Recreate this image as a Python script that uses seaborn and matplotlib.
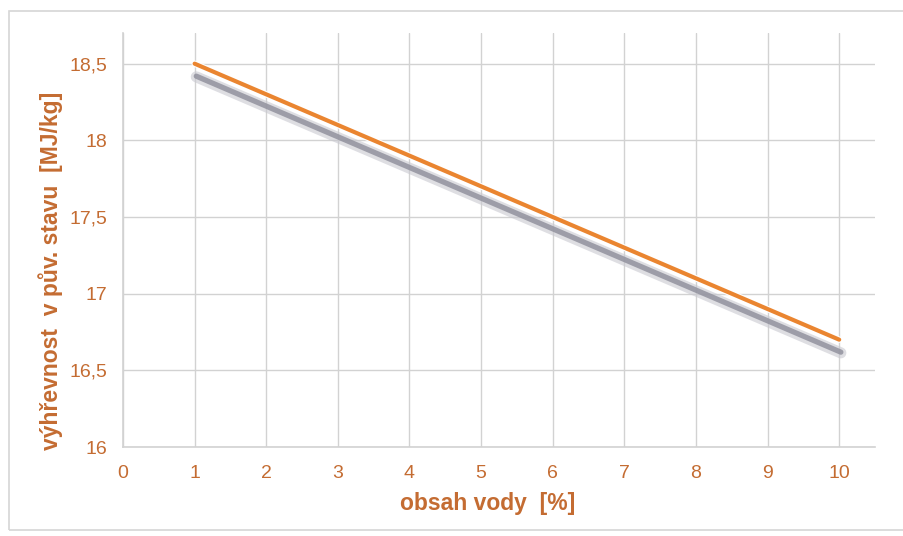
import matplotlib
matplotlib.use("Agg")
import matplotlib.pyplot as plt
import matplotlib.patheffects as pe
from matplotlib.patches import Rectangle
from matplotlib.ticker import FuncFormatter
import seaborn as sns
import pandas as pd

water_content = [1, 2, 3, 4, 5, 6, 7, 8, 9, 10]
heating_value = [18.5, 18.3, 18.1, 17.9, 17.7, 17.5, 17.3, 17.1, 16.9, 16.7]
x_ticks = [0, 1, 2, 3, 4, 5, 6, 7, 8, 9, 10]
y_ticks = [16, 16.5, 17, 17.5, 18, 18.5]

sns.set_theme(style="white")
plt.rcParams['font.family'] = ['Liberation Sans', 'DejaVu Sans']

text_col = "#C46C32"
grid_col = "#D2D2D2"
line_col = "#EA8530"

df = pd.DataFrame({"x": water_content, "y": heating_value})

fig = plt.figure(figsize=(9.04, 5.36), dpi=100)
fig.patch.set_facecolor("white")
fig.patches.append(Rectangle((9 / 904, 6 / 536), 1.0, 519 / 536, transform=fig.transFigure,
                             fill=False, edgecolor="#D6D6D6", linewidth=1.2))
ax = fig.add_axes([123 / 904, 1 - 447 / 536, (875 - 123) / 904, (447 - 33) / 536])

sns.lineplot(data=df, x="x", y="y", ax=ax, color=line_col, linewidth=3.0,
             path_effects=[
                 pe.SimpleLineShadow(offset=(1.2, -9.5), shadow_color="#C8C8D0", alpha=0.6, linewidth=8),
                 pe.SimpleLineShadow(offset=(1.2, -9.0), shadow_color="#92929E", alpha=0.85, linewidth=3.8),
                 pe.Stroke(linewidth=4.6, foreground="white"),
                 pe.Normal()])

ax.set_xlim(0, 10.5)
ax.set_ylim(16, 18.7)
ax.set_xticks(x_ticks)
ax.set_yticks(y_ticks)
ax.yaxis.set_major_formatter(FuncFormatter(lambda v, p: ("%g" % v).replace(".", ",")))
ax.grid(True, color=grid_col, linewidth=1)
ax.set_axisbelow(True)
for s in ["top", "right"]:
    ax.spines[s].set_visible(False)
for s in ["left", "bottom"]:
    ax.spines[s].set_color(grid_col)
    ax.spines[s].set_linewidth(1.2)
ax.tick_params(axis="both", length=0, labelsize=14, labelcolor=text_col)
ax.tick_params(axis="x", pad=13)
ax.tick_params(axis="y", pad=11)
ax.set_xlabel("obsah vody  [%]", fontsize=16.5, fontweight="bold", color=text_col)
ax.set_ylabel("výhřevnost  v pův. stavu  [MJ/kg]", fontsize=16.5, fontweight="bold", color=text_col)
ax.xaxis.set_label_coords((487.5 - 123) / 752, (447 - 492) / 414)
ax.yaxis.set_label_coords((63 - 123) / 752, (447 - 271) / 414)

fig.savefig("out.png", dpi=100)
